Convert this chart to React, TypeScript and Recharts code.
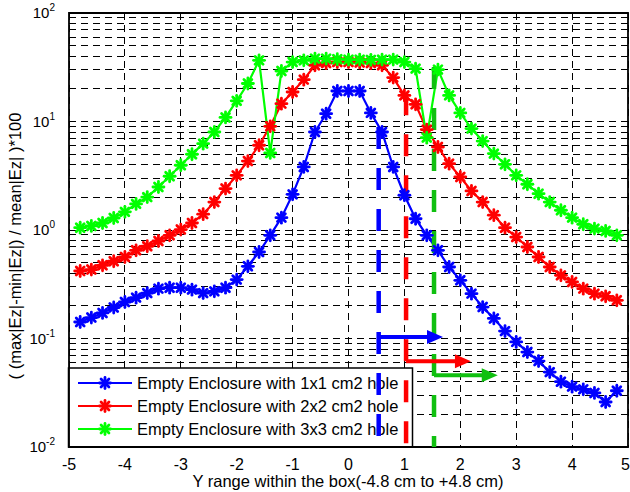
import React from "react";
import {
  LineChart, Line, XAxis, YAxis, CartesianGrid, ReferenceLine, ReferenceArea, Customized,
} from "recharts";

const xPositions = [
  -4.8, -4.6, -4.4, -4.2, -4.0, -3.8, -3.6, -3.4, -3.2, -3.0, -2.8, -2.6, -2.4, -2.2, -2.0, -1.8, -1.6,
  -1.4, -1.2, -1.0, -0.8, -0.6, -0.4, -0.2, 0, 0.2, 0.4, 0.6, 0.8, 1.0, 1.2, 1.4, 1.6, 1.8, 2.0, 2.2,
  2.4, 2.6, 2.8, 3.0, 3.2, 3.4, 3.6, 3.8, 4.0, 4.2, 4.4, 4.6, 4.8,
];
const hole1x1 = [
  0.142, 0.156, 0.172, 0.193, 0.217, 0.238, 0.262, 0.288, 0.294, 0.294, 0.282, 0.262, 0.272, 0.294,
  0.349, 0.463, 0.627, 0.894, 1.3, 2.13, 3.81, 8.0, 11.8, 19.1, 19.1, 19.1, 12.0, 8.0, 3.81, 2.09, 1.27,
  0.894, 0.65, 0.456, 0.344, 0.259, 0.195, 0.153, 0.117, 0.093, 0.075, 0.062, 0.049, 0.04, 0.036, 0.034,
  0.0315, 0.026, 0.033,
];
const hole2x2 = [
  0.419, 0.432, 0.473, 0.515, 0.564, 0.65, 0.708, 0.792, 0.894, 1.01, 1.16, 1.4, 1.81, 2.41, 3.19, 4.32,
  6.04, 9.03, 14.6, 18.7, 24.3, 33.0, 34.5, 35.3, 35.3, 35.0, 34.5, 33.0, 25.4, 17.4, 14.4, 8.42, 5.82,
  4.09, 3.08, 2.29, 1.81, 1.37, 1.05, 0.861, 0.697, 0.564, 0.456, 0.382, 0.332, 0.288, 0.259, 0.245, 0.225,
];
const hole3x3 = [
  1.05, 1.09, 1.16, 1.29, 1.47, 1.74, 2.01, 2.49, 3.13, 3.95, 4.99, 6.25, 8.0, 10.9, 15.5, 22.4, 36.6,
  5.13, 29.2, 35.3, 36.6, 38.0, 38.0, 37.5, 37.2, 37.2, 37.0, 37.2, 37.2, 35.3, 30.7, 7.1, 30.1, 17.4,
  12.0, 8.6, 6.6, 5.06, 4.03, 3.19, 2.64, 2.16, 1.81, 1.52, 1.3, 1.13, 1.03, 0.98, 0.894,
];
const seriesNames = [
  "Empty Enclosure with 1x1 cm2 hole",
  "Empty Enclosure with 2x2 cm2 hole",
  "Empty Enclosure with 3x3 cm2 hole",
];
const xTicks = [-5, -4, -3, -2, -1, 0, 1, 2, 3, 4, 5];
const yTicks = [
  0.01, 0.02, 0.03, 0.04, 0.05, 0.06, 0.07, 0.08, 0.09,
  0.1, 0.2, 0.3, 0.4, 0.5, 0.6, 0.7, 0.8, 0.9,
  1, 2, 3, 4, 5, 6, 7, 8, 9,
  10, 20, 30, 40, 50, 60, 70, 80, 90, 100,
];
const decadeLabels: Record<string, string> = { "0.01": "-2", "0.1": "-1", "1": "0", "10": "1", "100": "2" };
// holes: x position, top of dashed marker line, arrow y, arrow end x
const holeMarkX = [0.54, 1.03, 1.53];
const holeMarkTop = [8.9, 18.2, 31.8];
const arrowY = [0.103, 0.0616, 0.0458];
const arrowEndX = [1.69, 2.19, 2.67];

const colors = ["#0000ff", "#ff0000", "#00ff00"];
const markColors = ["#0000ff", "#ff0000", "#10c010"];
const FONT = "'Liberation Sans', Arial, Helvetica, sans-serif";

const data = xPositions.map((x, i) => ({ x, a: hole1x1[i], b: hole2x2[i], c: hole3x3[i] }));

const Star = ({ cx, cy, color }: { cx: number; cy: number; color: string }) => {
  const r = 5.5;
  const d = r * 0.72;
  return (
    <g stroke={color} strokeWidth={2.8} strokeLinecap="round">
      <line x1={cx - r} y1={cy} x2={cx + r} y2={cy} />
      <line x1={cx} y1={cy - r} x2={cx} y2={cy + r} />
      <line x1={cx - d} y1={cy - d} x2={cx + d} y2={cy + d} />
      <line x1={cx - d} y1={cy + d} x2={cx + d} y2={cy - d} />
    </g>
  );
};

const makeDot = (color: string) => (p: any) => {
  if (p.cx == null || p.cy == null) return <g key={p.index} />;
  return <Star key={p.index} cx={p.cx} cy={p.cy} color={color} />;
};

const YTick = (p: any) => {
  const v = p.payload.value;
  const exp = decadeLabels[String(v)];
  if (exp === undefined) return <g />;
  return (
    <text x={p.x - 12} y={p.y + 5} textAnchor="end" fontSize={15} fontFamily={FONT} fill="#000">
      10<tspan dy={-7} fontSize={10}>{exp}</tspan>
    </text>
  );
};

const XTick = (p: any) => {
  const last = p.payload.value === xTicks[xTicks.length - 1];
  return (
    <text x={last ? p.x + 2 : p.x} y={p.y + 21} textAnchor={last ? "end" : "middle"} fontSize={16} fontFamily={FONT} fill="#000">
      {p.payload.value}
    </text>
  );
};

const arrowShape = (color: string) => (p: any) => {
  const { x1, y1, x2, y2 } = p;
  if (x1 == null) return <g />;
  const head = 16;
  const hw = 7;
  return (
    <g>
      <line x1={x1} y1={y1} x2={x2 - head + 1} y2={y2} stroke={color} strokeWidth={4} />
      <polygon points={`${x2},${y2} ${x2 - head},${y2 - hw} ${x2 - head},${y2 + hw}`} fill={color} />
    </g>
  );
};

const LegendBox = () => {
  const rows = [383, 406, 429];
  return (
    <g>
      <rect x={68.5} y={368} width={344} height={79} fill="#fff" stroke="#000" strokeWidth={1.5} />
      {seriesNames.map((name, i) => (
        <g key={name}>
          <line x1={78} y1={rows[i]} x2={132} y2={rows[i]} stroke={colors[i]} strokeWidth={2.2} />
          <Star cx={105} cy={rows[i]} color={colors[i]} />
          <text x={137} y={rows[i] + 6} fontSize={16.5} fontFamily={FONT} fill="#000">{name}</text>
        </g>
      ))}
    </g>
  );
};

const AxisTitles = () => (
  <g fontFamily={FONT} fill="#000">
    <text x={348} y={487} textAnchor="middle" fontSize={16.5}>
      Y range within the box(-4.8 cm to +4.8 cm)
    </text>
    <text x={21} y={246} textAnchor="middle" fontSize={16.5} transform="rotate(-90 21 246)">
      ( (max|Ez|-min|Ez|) / mean|Ez| )*100
    </text>
  </g>
);

export default function App() {
  return (
    <div style={{ position: "absolute", left: 0, top: 0, background: "#fff" }}>
      <LineChart width={630} height={492} data={data} margin={{ top: 13, right: 2, bottom: 0, left: 0 }}>
        <CartesianGrid stroke="#000" strokeDasharray="7 5" strokeWidth={1} shapeRendering="crispEdges" />
        <XAxis
          dataKey="x" type="number" domain={[-5, 5]} ticks={xTicks} height={45}
          axisLine={false} tickLine={false} tickSize={0} tick={<XTick />} interval={0}
        />
        <YAxis
          type="number" scale="log" domain={[0.01, 100]} allowDataOverflow ticks={yTicks} width={69}
          axisLine={false} tickLine={false} tickSize={0} tick={<YTick />} interval={0}
        />
        <ReferenceArea x1={-5} x2={5} y1={0.01} y2={100} fill="none" stroke="#000" strokeWidth={1.8} />
        <Line dataKey="a" stroke={colors[0]} strokeWidth={2.2} dot={makeDot(colors[0])} isAnimationActive={false} />
        <Line dataKey="b" stroke={colors[1]} strokeWidth={2.2} dot={makeDot(colors[1])} isAnimationActive={false} />
        <Line dataKey="c" stroke={colors[2]} strokeWidth={2.2} dot={makeDot(colors[2])} isAnimationActive={false} />
        <Customized component={<LegendBox />} />
        {holeMarkX.map((x, i) => (
          <ReferenceLine
            key={"v" + i}
            segment={[{ x, y: holeMarkTop[i] }, { x, y: 0.01 }]}
            stroke={markColors[i]} strokeWidth={4.5} strokeDasharray="22 19"
          />
        ))}
        {holeMarkX.map((x, i) => (
          <ReferenceLine
            key={"a" + i}
            segment={[{ x, y: arrowY[i] }, { x: arrowEndX[i], y: arrowY[i] }]}
            shape={arrowShape(markColors[i])}
          />
        ))}
        <Customized component={<AxisTitles />} />
      </LineChart>
    </div>
  );
}
